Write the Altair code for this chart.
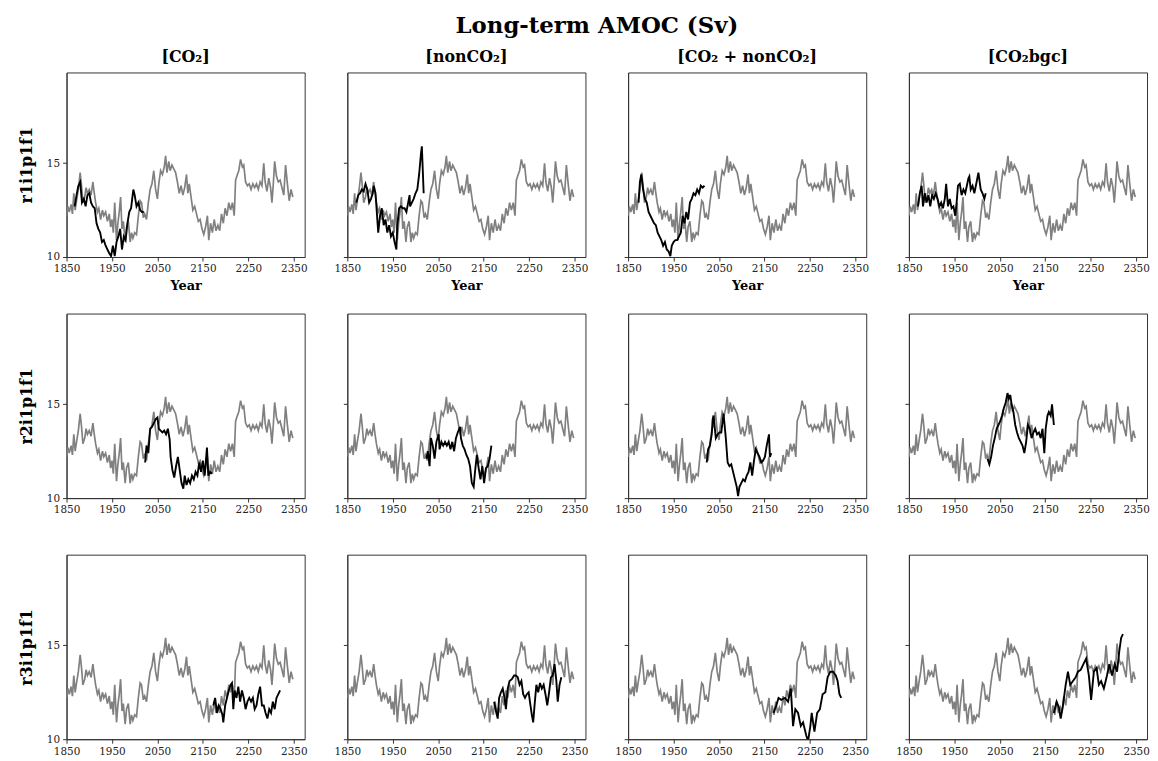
import altair as alt
import pandas as pd

FONT = "DejaVu Serif"

# ---------------- data ----------------
ctrl_years = [1850,1853,1856,1860,1863,1866,1869,1872,1876,1880,1883,1886,1890,1893,1896,1900,1904,1908,1911,1914,
              1918,1921,1925,1929,1932,1936,1940,1944,1947,1950,1953,1956,1960,1963,1966,1969,1972,1975,1979,1982,
              1986,1990,1993,1996,2000,2004,2008,2012,2015,2019,2022,2026,2030,2034,2038,2042,2046,2050,2053,2057,
              2061,2065,2068,2071,2075,2078,2082,2086,2090,2094,2098,2102,2106,2110,2114,2117,2120,2124,2128,2132,
              2136,2140,2144,2148,2152,2156,2160,2163,2167,2171,2175,2179,2183,2187,2191,2195,2199,2203,2207,2211,
              2215,2219,2222,2226,2229,2233,2237,2240,2244,2248,2252,2256,2260,2264,2268,2272,2276,2280,2284,2287,
              2291,2295,2299,2302,2305,2308,2312,2316,2320,2324,2328,2332,2336,2340,2344,2348]
ctrl_vals = [12.2,12.7,12.4,12.8,12.3,13.4,12.5,13.0,13.6,14.5,13.8,12.9,13.2,13.7,13.4,13.6,13.3,14.0,13.4,12.9,
             12.4,12.6,12.0,12.5,12.2,12.4,11.9,12.3,11.6,12.0,11.3,12.9,10.9,11.8,12.4,13.2,11.5,11.9,10.8,11.6,
             11.9,10.8,11.3,11.0,11.3,11.2,12.2,13.0,12.9,12.1,12.3,12.0,12.9,13.6,13.9,14.6,13.6,13.1,13.9,14.6,
             14.4,14.8,15.4,14.5,15.1,14.6,14.9,14.7,14.5,14.0,13.4,13.8,13.3,13.7,14.4,13.4,13.9,13.2,12.5,12.7,
             12.3,11.9,12.0,11.5,11.2,11.6,12.2,10.9,11.8,11.3,12.0,11.4,11.7,11.4,12.3,11.8,12.6,12.2,12.9,12.5,
             12.9,12.2,14.1,14.4,14.6,15.2,14.8,14.9,14.0,13.8,13.9,13.6,13.9,13.7,13.9,13.6,14.0,13.8,15.0,14.0,
             13.5,14.2,13.7,12.9,13.9,15.1,14.3,14.0,14.1,13.7,13.3,14.9,13.9,13.0,13.6,13.2]

experiments = ["[CO\u2082]", "[nonCO\u2082]", "[CO\u2082 + nonCO\u2082]", "[CO\u2082bgc]"]
members = ["r1i1p1f1", "r2i1p1f1", "r3i1p1f1"]

# r1i1p1f1
r1_co2_y = [1868,1872,1876,1880,1884,1888,1892,1896,1900,1904,1908,1912,1916,1920,1924,1928,1932,1936,1940,1944,
            1948,1952,1956,1960,1964,1968,1972,1976,1980,1984,1988,1992,1997,2000,2004,2008,2012,2016,2020]
r1_co2_v = [12.7,13.3,13.8,14.0,12.9,13.1,12.7,13.3,13.4,12.9,12.7,12.6,11.8,11.5,11.3,10.8,10.9,10.6,10.4,10.2,
            10.05,10.6,10.05,10.8,11.1,11.5,10.4,11.1,10.9,11.8,12.4,12.6,13.6,13.3,12.7,12.9,12.5,12.4,12.4]
r1_non_y = [1870,1874,1878,1882,1886,1890,1894,1898,1902,1906,1908,1912,1916,1918,1922,1926,1930,1934,1938,1942,
            1946,1950,1954,1958,1960,1964,1968,1972,1976,1980,1987,1988,1992,1996,2000,2004,2008,2012,2014,2018]
r1_non_v = [12.9,13.3,13.4,13.6,13.5,13.9,13.6,12.9,13.1,13.4,13.8,13.4,12.0,11.3,12.2,12.6,11.7,12.0,11.3,11.7,
            11.1,11.3,10.8,10.4,11.7,12.6,12.7,12.6,12.6,12.4,13.3,12.7,12.9,13.1,13.4,13.6,14.4,15.5,15.9,13.4]
r1_both_y = [1873,1876,1879,1883,1887,1891,1895,1899,1903,1907,1911,1915,1919,1923,1927,1931,1935,1939,1943,1946,
             1950,1954,1958,1962,1966,1970,1974,1978,1982,1986,1990,1994,1998,2002,2006,2010,2014,2018]
r1_both_v = [12.9,14.0,14.4,13.6,13.1,12.9,12.4,12.2,12.0,11.8,11.7,11.3,11.1,10.9,10.6,10.8,10.4,10.3,10.05,10.6,
             10.8,10.9,10.9,11.1,11.3,12.2,11.8,12.4,12.0,12.9,13.1,13.4,13.3,13.6,13.4,13.8,13.7,13.8]
r1_bgc_y = [1870,1874,1878,1881,1885,1889,1893,1897,1901,1905,1909,1913,1917,1921,1925,1929,1932,1936,1940,1944,
            1948,1952,1955,1958,1962,1966,1970,1974,1981,1983,1986,1990,1994,1999,2003,2008,2012,2016,2019]
r1_bgc_v = [12.7,13.4,13.8,12.7,13.4,12.9,13.3,12.7,13.3,13.1,13.4,13.1,12.7,12.9,12.6,13.1,13.9,12.7,13.1,12.6,
            12.7,12.2,12.9,13.8,13.9,13.3,13.6,13.4,14.2,14.3,13.6,13.8,13.4,14.0,14.5,13.6,13.4,13.1,13.4]

# r2i1p1f1
r2_co2_y = [2023,2026,2030,2034,2038,2042,2046,2050,2053,2057,2061,2065,2069,2073,2077,2079,2083,2087,2091,2095,
            2099,2103,2107,2110,2114,2118,2122,2126,2130,2134,2138,2142,2146,2150,2154,2159,2162,2166,2170]
r2_co2_v = [11.9,12.8,12.4,13.7,13.8,14.0,14.2,14.3,13.7,13.6,13.5,13.6,13.4,13.7,13.1,12.2,11.5,11.1,11.7,12.2,
            11.5,10.8,10.5,11.2,10.7,11.0,10.8,11.2,11.0,11.4,11.2,11.9,11.4,12.0,11.2,12.7,11.2,11.4,11.3]
r2_non_y = [2024,2027,2031,2034,2038,2042,2046,2051,2053,2057,2061,2065,2069,2073,2077,2081,2085,2089,2093,2098,
            2100,2104,2108,2112,2116,2120,2124,2128,2131,2135,2139,2143,2147,2151,2155,2159,2163,2167]
r2_non_v = [12.1,12.5,11.7,13.2,12.8,12.1,13.0,13.4,12.6,13.0,12.8,13.0,12.8,13.0,12.6,13.0,12.5,13.2,13.5,13.8,
            13.2,12.8,12.6,12.3,12.1,11.7,10.8,10.6,11.4,12.3,11.6,11.0,11.7,10.8,11.6,11.7,12.1,12.8]
r2_both_y = [2023,2026,2030,2034,2036,2038,2043,2047,2051,2055,2058,2060,2065,2069,2073,2077,2081,2085,2089,2092,
             2095,2099,2103,2107,2111,2115,2119,2123,2127,2131,2135,2139,2143,2147,2151,2155,2160,2162,2165]
r2_both_v = [11.9,12.6,12.8,13.4,14.2,14.4,13.2,13.4,13.5,13.5,14.1,14.5,13.2,11.9,11.7,11.8,11.4,11.0,10.6,10.1,
             10.6,10.8,11.0,10.9,11.2,11.4,11.9,11.2,12.0,12.6,12.4,12.2,11.9,12.0,12.2,12.8,13.4,12.2,12.4]
r2_bgc_y = [2023,2027,2031,2035,2039,2043,2047,2051,2055,2059,2063,2067,2070,2073,2076,2080,2084,2088,2092,2096,
            2100,2104,2108,2112,2116,2120,2124,2128,2132,2136,2140,2144,2148,2151,2155,2158,2162,2165,2169]
r2_bgc_v = [12.1,11.8,12.2,12.8,13.2,13.7,13.9,14.1,14.4,14.8,15.1,15.6,15.3,15.5,15.0,14.6,13.9,13.5,13.2,13.0,
            12.8,12.4,13.0,13.9,13.7,13.2,13.5,13.7,13.4,13.5,13.2,13.7,12.4,13.7,14.4,14.6,14.4,15.0,13.9]

# r3i1p1f1
r3_co2_y = [2173,2177,2181,2185,2189,2193,2195,2199,2203,2207,2211,2214,2217,2220,2224,2228,2232,2236,2240,2244,
            2248,2252,2256,2260,2264,2268,2272,2276,2280,2284,2288,2292,2296,2300,2304,2308,2312,2316,2320]
r3_co2_v = [11.8,12.2,11.4,11.8,11.6,11.3,10.9,11.8,12.2,12.6,12.9,13.0,11.6,12.6,12.2,12.8,12.0,12.6,12.2,11.6,
            12.0,12.2,12.0,12.2,11.6,11.8,12.4,12.8,11.8,11.8,11.4,11.1,11.6,11.4,12.0,11.6,12.2,12.4,12.6]
r3_non_y = [2173,2178,2181,2184,2188,2192,2196,2199,2203,2207,2212,2217,2221,2225,2229,2233,2237,2241,2245,2249,
            2253,2256,2259,2262,2266,2270,2274,2278,2282,2286,2290,2294,2298,2302,2306,2310,2313,2317,2321]
r3_non_v = [12.0,11.4,11.1,12.2,12.5,12.7,12.2,11.6,12.7,13.1,13.2,13.4,13.4,13.3,12.9,13.1,12.4,12.2,12.4,12.5,
            11.8,11.3,10.9,11.8,12.9,12.5,13.0,12.7,12.9,12.4,11.8,12.5,13.3,13.4,14.0,13.1,12.0,12.9,13.3]
r3_both_y = [2170,2176,2181,2187,2195,2202,2208,2213,2218,2224,2230,2235,2242,2246,2251,2254,2260,2266,2272,2278,
             2284,2289,2295,2301,2307,2311,2315,2319]
r3_both_v = [11.4,11.8,12.2,12.1,12.2,12.0,12.7,10.7,11.6,11.4,10.7,10.9,10.2,9.9,10.7,11.4,10.4,11.4,11.6,12.4,
             12.5,13.3,13.6,13.6,13.4,13.1,12.4,12.2]
r3_bgc_y = [2169,2175,2180,2184,2189,2195,2200,2205,2211,2217,2222,2228,2234,2240,2246,2251,2257,2263,2268,2273,
            2279,2285,2291,2297,2303,2308,2313,2317,2321]
r3_bgc_v = [11.4,12.0,11.7,11.1,11.8,12.9,13.6,12.9,13.1,13.3,13.6,13.7,14.0,14.3,13.4,12.1,13.6,13.8,12.9,13.1,
            12.7,13.3,14.0,13.4,14.0,13.6,14.7,15.4,15.6]

runs = [
    [(r1_co2_y, r1_co2_v), (r1_non_y, r1_non_v), (r1_both_y, r1_both_v), (r1_bgc_y, r1_bgc_v)],
    [(r2_co2_y, r2_co2_v), (r2_non_y, r2_non_v), (r2_both_y, r2_both_v), (r2_bgc_y, r2_bgc_v)],
    [(r3_co2_y, r3_co2_v), (r3_non_y, r3_non_v), (r3_both_y, r3_both_v), (r3_bgc_y, r3_bgc_v)],
]

ctrl_df = pd.DataFrame({"year": ctrl_years, "val": ctrl_vals})

xs = alt.Scale(domain=[1850, 2374], nice=False, zero=False)
ys = alt.Scale(domain=[10, 19.84], nice=False, zero=False)
xticks = [1850, 1950, 2050, 2150, 2250, 2350]


def panel(r, c):
    yrs, vals = runs[r][c]
    df = pd.DataFrame({"year": yrs, "val": vals})
    xaxis_kw = dict(values=xticks, format="d", labelFlush=False)
    if r == 0:
        xaxis = alt.Axis(title="Year", **xaxis_kw)
    else:
        xaxis = alt.Axis(title=None, **xaxis_kw)
    if c == 0:
        yaxis = alt.Axis(values=[10, 15], title=members[r], titleFontSize=16,
                         titlePadding=12)
    else:
        yaxis = alt.Axis(values=[10, 15], labels=False, title=None)
    g = alt.Chart(ctrl_df).mark_line(color="#808080", strokeWidth=1.7, clip=True).encode(
        x=alt.X("year:Q", scale=xs, axis=xaxis),
        y=alt.Y("val:Q", scale=ys, axis=yaxis),
    )
    b = alt.Chart(df).mark_line(color="#000000", strokeWidth=1.9, clip=True).encode(
        x=alt.X("year:Q", scale=xs),
        y=alt.Y("val:Q", scale=ys),
    )
    ch = alt.layer(g, b).properties(width=240, height=186)
    if r == 0:
        ch = ch.properties(title=alt.TitleParams(experiments[c], font=FONT, fontSize=16,
                                                 fontWeight="bold", offset=8, color="#000"))
    return ch


charts = [panel(r, c) for r in range(3) for c in range(4)]

chart = alt.concat(*charts, columns=4, spacing={"row": 57, "column": 43}, bounds="flush").properties(
    title=alt.TitleParams("Long-term AMOC (Sv)", font=FONT, fontSize=23, fontWeight="bold",
                          anchor="middle", offset=10, color="#000", dx=13),
    padding={"left": 10, "top": 4, "right": 0, "bottom": 2},
).configure_view(
    stroke="#333333", strokeWidth=1
).configure_axis(
    labelFont=FONT, labelFontSize=10.5, labelColor="#222222",
    titleFont=FONT, titleFontWeight="bold", titleFontSize=13, titleColor="#000000",
    tickColor="#333333", domainColor="#333333", tickSize=4, labelPadding=3, grid=False,
    titlePadding=5,
)

chart.save("out.html", embed_options={"renderer": "svg", "actions": False})
